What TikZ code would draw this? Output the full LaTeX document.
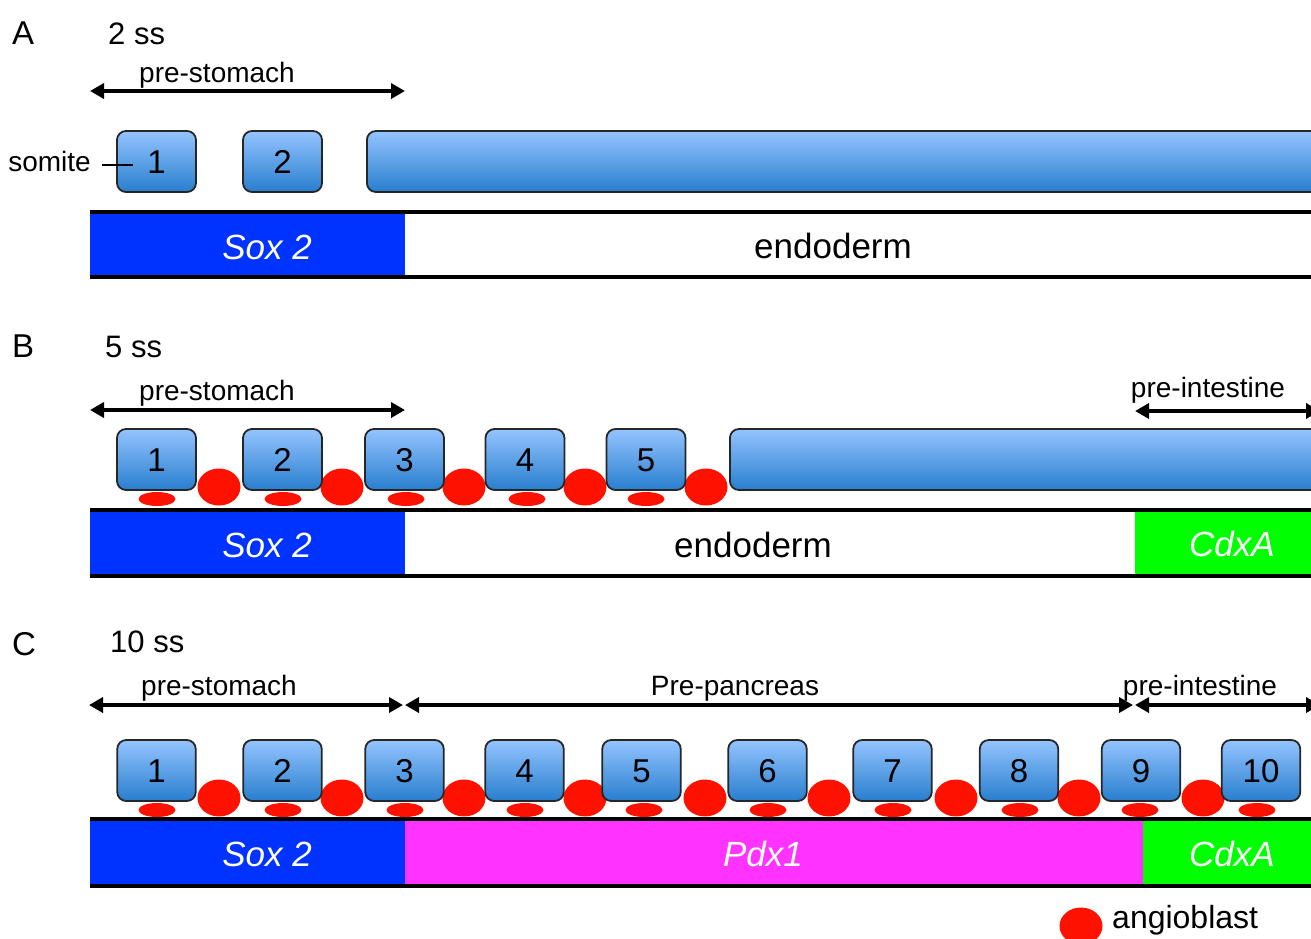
\documentclass[tikz,border=0pt]{standalone}
\usepackage{fontspec}
\setmainfont{Liberation Sans}
\usetikzlibrary{arrows.meta}
\definecolor{soxblue}{RGB}{0,51,255}
\definecolor{pdxmag}{RGB}{255,51,255}
\definecolor{cdxgreen}{RGB}{0,255,0}
\definecolor{angred}{RGB}{255,17,0}
\definecolor{somtop}{RGB}{148,196,255}
\definecolor{sombot}{RGB}{40,126,206}
\newcommand\fsz[1]{\fontsize{#1}{#1}\selectfont}
\begin{document}
\begin{tikzpicture}[x=1pt,y=-1pt,
  somite/.style={draw=black!85, line width=1.8pt, rounded corners=9pt,
    top color=somtop, bottom color=sombot, minimum height=61pt,
    inner sep=0pt, font=\fsz{33}, text height=23.6pt, text depth=0pt},
  angio/.style={fill=angred},
  barline/.style={line width=3.4pt, black},
  span/.style={line width=3.5pt,
    {Triangle[length=14pt,width=15pt]}-{Triangle[length=14pt,width=15pt]}},
  panel/.style={font=\fsz{33}, anchor=base west, inner sep=0pt},
  stage/.style={font=\fsz{31}, anchor=base west, inner sep=0pt},
  region/.style={font=\fsz{28}, anchor=base, inner sep=0pt},
  gene/.style={font=\fsz{35}\itshape, text=white, anchor=base, inner sep=0pt},
  plain/.style={font=\fsz{35}, anchor=base, inner sep=0pt}]
\path[use as bounding box, clip] (0,0) rectangle (1311,938);

% ---------------- A: 2 somite stage ----------------
\node[panel] (lA) at (12,44) {A};
\node[stage] (sA) at (108,44) {2 ss};
\node[region] (rA) at (217,82) {pre-stomach};
\coordinate (aAl) at (90,91);
\coordinate (aAr) at (405,91);
\draw[span] (aAl) -- (aAr);

\node[somite, minimum width=79pt] (A1) at (156.5,161.5) {1};
\node[somite, minimum width=79pt] (A2) at (282.5,161.5) {2};
\node[somite, minimum width=990pt, anchor=west] (AL) at (366,161.5) {};

\node[font=\fsz{28}, anchor=base east, inner sep=0pt] (som) at (91,171) {somite};
\coordinate (somL) at (102,165);
\coordinate (somR) at (133,165);
\draw[line width=1.5pt] (somL) -- (somR);

\fill[soxblue] (90,212) rectangle (405,277);
\draw[barline] (90,212) -- (1320,212);
\draw[barline] (90,277) -- (1320,277);
\node[gene] (gA1) at (267,259) {Sox 2};
\node[plain] (gA2) at (833,258) {endoderm};

% ---------------- B: 5 somite stage ----------------
\node[panel] (lB) at (12,357) {B};
\node[stage] (sB) at (105,357) {5 ss};
\node[region] (rB1) at (217,400) {pre-stomach};
\coordinate (aB1l) at (90,410);
\coordinate (aB1r) at (405,410);
\draw[span] (aB1l) -- (aB1r);
\node[region] (rB2) at (1208,397) {pre-intestine};
\coordinate (aB2l) at (1135,411);
\coordinate (aB2r) at (1320,411);
\draw[span] (aB2l) -- (aB2r);

\foreach \x in {219,342,464,585,706}
  \fill[angio] (\x,487) ellipse [x radius=21.5pt, y radius=18.5pt];
\foreach \x in {157,283,406,527,646}
  \fill[angio] (\x,499) ellipse [x radius=18.5pt, y radius=7pt];

\foreach \n/\x in {1/156.5,2/282.5,3/404.5,4/525,5/646}
  \node[somite, minimum width=79pt] (B\n) at (\x,459.5) {\n};
\node[somite, minimum width=620pt, anchor=west] (BL) at (729,459.5) {};

\fill[soxblue] (90,510) rectangle (405,576);
\fill[cdxgreen] (1135,510) rectangle (1320,576);
\draw[barline] (90,510) -- (1320,510);
\draw[barline] (90,576) -- (1320,576);
\node[gene] (gB1) at (267,557) {Sox 2};
\node[plain] (gB2) at (753,557) {endoderm};
\node[gene] (gB3) at (1232,556) {CdxA};

% ---------------- C: 10 somite stage ----------------
\node[panel] (lC) at (12,655) {C};
\node[stage] (sC) at (110,652) {10 ss};
\node[region] (rC1) at (219,695) {pre-stomach};
\node[region] (rC2) at (735,695) {Pre-pancreas};
\node[region] (rC3) at (1200,695) {pre-intestine};
\coordinate (aC1l) at (89,705);
\coordinate (aC1r) at (403,705);
\coordinate (aC2l) at (405,705);
\coordinate (aC2r) at (1133,705);
\coordinate (aC3l) at (1135,705);
\coordinate (aC3r) at (1320,705);
\draw[span] (aC1l) -- (aC1r);
\draw[span] (aC2l) -- (aC2r);
\draw[span] (aC3l) -- (aC3r);

\foreach \x in {219,342,464,585,705,829,956,1079,1203}
  \fill[angio] (\x,798) ellipse [x radius=21.5pt, y radius=18.5pt];
\foreach \x in {157,283,405,525,644,768,893,1020,1140,1257}
  \fill[angio] (\x,810) ellipse [x radius=18.5pt, y radius=7pt];

\foreach \n/\x in {1/156.5,2/282.5,3/404.5,4/524.5,5/641.5,6/767.5,7/892.5,8/1019,9/1141,10/1261}
  \node[somite, minimum width=78.5pt] (C\n) at (\x,770.5) {\n};

\fill[soxblue] (90,819) rectangle (405,886);
\fill[pdxmag] (405,819) rectangle (1143,886);
\fill[cdxgreen] (1143,819) rectangle (1320,886);
\draw[barline] (90,819) -- (1320,819);
\draw[barline] (90,886) -- (1320,886);
\node[gene] (gC1) at (267,866) {Sox 2};
\node[gene] (gC2) at (763,866) {Pdx1};
\node[gene] (gC3) at (1232,866) {CdxA};

% ---------------- legend ----------------
\fill[angio] (1081,926) ellipse [x radius=21.5pt, y radius=18.5pt];
\node[font=\fsz{32}, anchor=base west, inner sep=0pt] (leg) at (1112,928) {angioblast};
\end{tikzpicture}
\end{document}
